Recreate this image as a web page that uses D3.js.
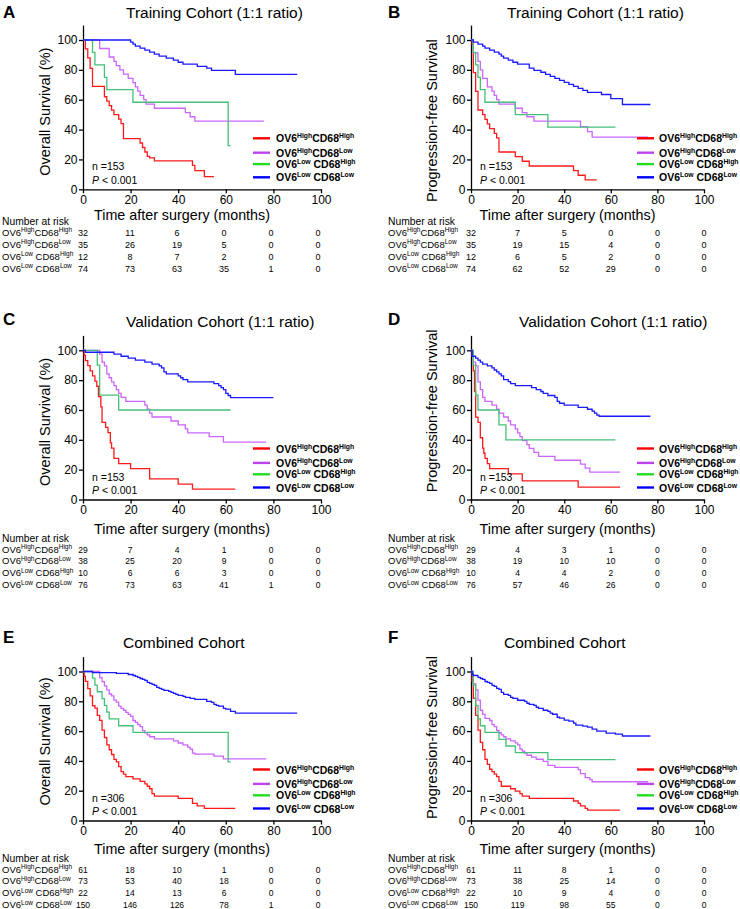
<!DOCTYPE html>
<html lang="en">
<head>
<meta charset="UTF-8">
<title>Kaplan-Meier curves</title>
<script src="https://cdnjs.cloudflare.com/ajax/libs/d3/7.8.5/d3.min.js"></script>
<style>
  body { margin: 0; background: #fff; }
  svg { display: block; font-family: "Liberation Sans", Arial, sans-serif; }
  .axis path, .axis line { stroke: #000; stroke-width: 1.3px; }
</style>
</head>
<body>
<div id="chart"></div>
<script>
// ---- data ----
const monthTicks = [0, 20, 40, 60, 80, 100];
const survTicks = [0, 20, 40, 60, 80, 100];
const panelLetters = ["A", "B", "C", "D", "E", "F"];
const panelTitles = ["Training Cohort (1:1 ratio)", "Training Cohort (1:1 ratio)",
  "Validation Cohort (1:1 ratio)", "Validation Cohort (1:1 ratio)",
  "Combined Cohort", "Combined Cohort"];
const yTitles = ["Overall Survival (%)", "Progression-free Survival",
  "Overall Survival (%)", "Progression-free Survival",
  "Overall Survival (%)", "Progression-free Survival"];
const nTotals = [153, 153, 153, 153, 306, 306];
const ov6Levels = ["High", "High", "Low", "Low"];
const cd68Levels = ["High", "Low", "High", "Low"];

// step points [month, survival %], last point = end of follow-up
const kmA = [
  [[0,100],[1,94],[2,88],[3,81],[4,69],[9,62],[10,59],[11,56],[12,53],[13,50],[15,47],[16,44],[17,34],[24,31],[25,28],[26,25],[27,22],[28,21],[30,19],[46,16],[47,12.5],[51,8.5],[55,8.5]],
  [[0,100],[7,94.3],[11,88.6],[13,85.7],[14,82.9],[15.5,80],[17,77.1],[19,74.3],[21,71.4],[22,68.6],[23,65.7],[24,62.9],[25.5,60],[26.5,57.1],[30,54.3],[43,51.4],[45,48.6],[47,45.7],[76,45.7]],
  [[0,100],[4,91.7],[5,83.3],[9,75],[10,66.7],[21,58.3],[61,29.2],[62,29.2]],
  [[0,100],[20,98.6],[21,97.3],[22,95.9],[24,94.6],[26,93.2],[28,91.9],[30,90.5],[32,89.2],[35,87.8],[38,86.5],[40,85.1],[42,83.8],[48,82.4],[52,81.1],[54,79.7],[64,77],[90,77]]
];
const kmB = [
  [[0,100],[0.5,96.9],[1,78.1],[2,65.6],[3,53.1],[5,50],[6,46.9],[7,43.8],[8,40.6],[10,37.5],[11,34.4],[12,25],[19,21.9],[22,18.8],[25,15.6],[44,12.5],[46,9.4],[49,6.3],[54,6.3]],
  [[0,100],[1,91.4],[3,85.7],[4,80],[5,74.3],[7,68.6],[9,65.7],[10,62.9],[11,60],[12,57.1],[19,54.3],[22,51.4],[24,48.6],[27,45.7],[47,42],[50,38.6],[52,35],[76,35]],
  [[0,100],[1,91.7],[2,83.3],[3,75],[4,66.7],[6,58.3],[19,50],[33,41.7],[62,41.7]],
  [[0,100],[1,98.6],[3,97.3],[5,95.9],[6,94.6],[8,93.2],[10,91.9],[12,90.5],[13,89.2],[14,87.8],[16,86.5],[18,85.1],[20,83.8],[25,81.1],[27,79.7],[30,78.4],[32,77],[34,75.7],[36,74.3],[38,73],[40,71.6],[42,70.3],[44,68.9],[46,67.6],[48,66.2],[50,64.9],[56,63.5],[60,60.8],[65,56.8],[77,56.8]]
];
const kmC = [
  [[0,100],[0.5,96.6],[1,93.1],[2,89.7],[3,86.2],[4,82.8],[5,79.3],[5.8,75.9],[6.5,69],[7.5,62.1],[8,51.7],[9.5,48.3],[10.5,44.8],[11.5,37.9],[12,34.5],[13,27.6],[15,24.1],[20,20.7],[28,13.8],[40,10.3],[46,6.9],[64,6.9]],
  [[0,100],[7,97.4],[8,92.1],[9,89.5],[10,84.2],[11,81.6],[12,78.9],[13,76.3],[14,73.7],[15,71.1],[16,68.4],[18,65.8],[26,63.2],[27,60.5],[28,57.9],[29,55.3],[37,52.6],[40,50],[43,47.4],[44,44.7],[53,42.1],[59,38.4],[77,38.4]],
  [[0,100],[6,90],[7,70],[15,60],[62,60]],
  [[0,100],[1,98.7],[13,97.4],[16,96],[19,94.7],[22,93.4],[26,92.1],[29,90.8],[32,89.5],[33,88.2],[34,85.5],[35,84.2],[40,82.9],[41,81.6],[42,80.3],[44,78.9],[55,77.6],[57,76.3],[58,75],[59,73.7],[60,71.1],[61,69.7],[62,68.3],[80,68.3]]
];
const kmD = [
  [[0,100],[0.5,96.6],[1,86.2],[1.5,72.4],[2,55.2],[3,51.7],[4,41.4],[5,34.5],[5.5,31],[6,27.6],[7,24.1],[8,20.7],[16,17.2],[22,12.5],[46,8.3],[64,8.3]],
  [[0,100],[1,92.1],[2,89.5],[3,78.9],[4,73.7],[5,68.4],[6,65.8],[9,63.2],[11,60.5],[12,57.9],[14,55.3],[16,52.6],[17,50],[19,47.4],[20,44.7],[21,42.1],[22,39.5],[24,36.8],[25,34.2],[27,31.6],[29,28.9],[36,26.3],[47,23.7],[49,21],[51,18.4],[64,18.4]],
  [[0,100],[1,90],[2,70],[3,60],[12,50],[15,40],[62,40]],
  [[0,100],[0.5,96],[2,94.7],[3,93.4],[4,92.1],[5,90.8],[7,89.5],[9,88.2],[10,86.8],[11,85.5],[12,84.2],[13,82.9],[14,80.3],[16,79],[17,77.6],[19,76.3],[26,75],[28,73.7],[30,72.4],[31,71.1],[33,69.7],[36,68.4],[37,65.8],[38,64.5],[40,63.2],[46,61.8],[50,60.5],[52,59.2],[53,57.9],[54,56.6],[55,55.8],[77,55.8]]
];
const kmE = [
  [[0,100],[0.5,96.7],[1,93.4],[2,88.5],[3,83.6],[4,77],[5,75.4],[6,70.5],[7,67.2],[8,60.7],[9,55.7],[10,50.8],[11,47.5],[12,44.3],[13,41],[14,39.3],[15,36.1],[16,32.8],[17,31.1],[18,29.5],[21,27.9],[24,26.2],[26,24.6],[27,23],[28,21.3],[29,18],[30,16.4],[40,14.8],[46,11.5],[48,9.8],[51,8.2],[64,8.2]],
  [[0,100],[7,95.9],[8,93.2],[9,90.4],[10,87.7],[11,84.9],[12,83.6],[13,80.8],[14,79.5],[15,76.7],[16,75.3],[17,74],[18,72.6],[19,71.2],[20,69.9],[21,67.1],[22,65.8],[23,64.4],[24,63],[25,60.3],[26,58.9],[27,57.5],[28,56.2],[30,54.8],[38,53.4],[40,52],[42,50.7],[44,49.3],[45,47.9],[46,45.2],[47,44.5],[55,43.2],[59,41.4],[77,41.4]],
  [[0,100],[4,95.5],[5,90.9],[6,86.4],[8,81.8],[9,77.3],[10,72.7],[11,68.2],[15,63.6],[21,59.1],[61,39.4],[62,39.4]],
  [[0,100],[4,99.3],[14,98.7],[19,98],[21,97.3],[22,96.7],[23,96],[24,95.3],[25,94.7],[26,94],[27,92.7],[28,92],[29,91.3],[30,90.7],[31,89.3],[32,88.7],[33,88],[34,87.3],[36,86.7],[37,86],[38,85.3],[39,84.7],[40,84],[42,83.3],[43,82.7],[45,82],[47,81.3],[52,80],[54,79.3],[55,78],[56,77.3],[57,76.7],[59,75.3],[60,74.7],[62,73.3],[64,72],[90,72]]
];
const kmF = [
  [[0,100],[0.5,93.4],[1,82],[2,70.5],[3,60.7],[4,52.5],[5,47.5],[6,41],[7,37.7],[8,34.4],[9,32.8],[10,31.1],[11,29.5],[12,26.2],[13,23],[17,21.3],[19,19.7],[21,18],[22,16.4],[25,14.8],[44,13.1],[46,11.5],[47,9.8],[49,8.2],[50,7],[64,7]],
  [[0,100],[1,91.8],[2,87.7],[3,80.8],[4,74],[5,71.2],[6,68.5],[8,67.1],[9,64.4],[10,63],[11,60.3],[12,58.9],[13,57.5],[14,56.2],[15,54.8],[17,53.4],[19,52.1],[20,50.7],[21,47.9],[22,46.6],[23,45.2],[24,43.8],[26,42.5],[28,41.1],[31,39.7],[33,37],[36,35.6],[46,34.2],[47,31.5],[49,28.8],[51,27.4],[52,26],[76,26]],
  [[0,100],[1,90.9],[2,77.3],[3,68.2],[4,63.6],[6,59.1],[12,54.5],[15,50],[19,45.5],[33,40.9],[62,40.9]],
  [[0,100],[0.5,98],[1,97.3],[3,96],[4,95.3],[5,94.7],[6,93.3],[7,92.7],[8,92],[9,90.7],[10,90],[11,88.7],[12,88],[13,86],[14,84.7],[16,84],[17,82.7],[18,82],[20,80.7],[23,80],[24,78.7],[25,78],[27,77.3],[28,76],[29,75.3],[31,74],[33,73.3],[34,72],[35,71.3],[37,69.3],[38,68.7],[40,67.3],[42,66.7],[44,65.3],[45,64],[48,63.3],[50,62.7],[52,61.3],[54,60],[58,58.7],[62,58],[65,56.7],[77,56.7]]
];

// number at risk at 0,20,40,60,80,100 months
const riskA = [[32,11,6,0,0,0],[35,26,19,5,0,0],[12,8,7,2,0,0],[74,73,63,35,1,0]];
const riskB = [[32,7,5,0,0,0],[35,19,15,4,0,0],[12,6,5,2,0,0],[74,62,52,29,0,0]];
const riskC = [[29,7,4,1,0,0],[38,25,20,9,0,0],[10,6,6,3,0,0],[76,73,63,41,1,0]];
const riskD = [[29,4,3,1,0,0],[38,19,10,10,0,0],[10,4,4,2,0,0],[76,57,46,26,0,0]];
const riskE = [[61,18,10,1,0,0],[73,53,40,18,0,0],[22,14,13,6,0,0],[150,146,126,78,1,0]];
const riskF = [[61,11,8,1,0,0],[73,38,25,14,0,0],[22,10,9,4,0,0],[150,119,98,55,0,0]];

const kmAll = [kmA, kmB, kmC, kmD, kmE, kmF];
const riskAll = [riskA, riskB, riskC, riskD, riskE, riskF];

// ---- styles / layout ----
const curveColors = ["#ff1a1a", "#cc66ff", "#44c07a", "#1a1aff"];
const legendColors = ["#ff0000", "#bb44ee", "#22dd22", "#0000ff"];

const cols = [
  { x0: 83, x1: 321, letterX: 3, riskX: 2, legLine: 170, legText: 193, ylabX: 45 },
  { x0: 471, x1: 704, letterX: 388, riskX: 388, legLine: 166, legText: 188, ylabX: 432 }
];
const rows = [
  { y100: 40, y0: 189.3, title: 18, letter: 17.5, xlab: 31, risk: 36, riskSize: 9 },
  { y100: 350.3, y0: 499.5, title: 326.5, letter: 325, xlab: 34, risk: 42.5, riskSize: 8.5 },
  { y100: 671.5, y0: 820.5, title: 648, letter: 643, xlab: 33, risk: 41.5, riskSize: 8.5 }
];
const titleX = [126, 507, 126, 519, 123, 504];
const ylabShift = [-3, 6, -3, -14, -4.5, -8.5];
const legendRowDy = [0, 14.4, 25.8, 39];

const svg = d3.select("#chart").append("svg")
  .attr("width", 740).attr("height", 909);

// OV6^x CD68^y label with superscripts
function groupLabel(g, i, x, y, size, supSize, weight) {
  const t = g.append("text")
    .attr("x", x).attr("y", y)
    .attr("font-size", size).attr("font-weight", weight).attr("fill", "#000");
  const up = size * 0.38;
  t.append("tspan").text("OV6");
  t.append("tspan").attr("dy", -up).attr("font-size", supSize).text(ov6Levels[i]);
  t.append("tspan").attr("dy", up).attr("font-size", size)
    .text((ov6Levels[i] === "Low" ? " " : "") + "CD68");
  t.append("tspan").attr("dy", -up).attr("font-size", supSize).text(cd68Levels[i]);
  return t;
}

function drawPanel(p) {
  const c = cols[p % 2], r = rows[Math.floor(p / 2)];
  const g = svg.append("g");

  const x = d3.scaleLinear().domain([0, 100]).range([c.x0, c.x1]);
  const y110 = r.y0 - (r.y0 - r.y100) * 1.1;
  const y = d3.scaleLinear().domain([0, 110]).range([r.y0, y110]);

  // letter + title
  g.append("text").attr("x", c.letterX).attr("y", r.letter)
    .attr("font-size", 17).attr("font-weight", "bold").text(panelLetters[p]);
  g.append("text").attr("x", titleX[p]).attr("y", r.title)
    .attr("font-size", 15.5).text(panelTitles[p]);

  // axes
  const xAxis = g.append("g").attr("class", "axis")
    .attr("transform", `translate(0,${r.y0})`)
    .call(d3.axisBottom(x).tickValues(monthTicks).tickSize(4).tickSizeOuter(0).tickPadding(2));
  xAxis.selectAll("text").attr("font-size", 12).attr("font-family", null).attr("fill", "#000");

  const yAxis = g.append("g").attr("class", "axis")
    .attr("transform", `translate(${c.x0},0)`)
    .call(d3.axisLeft(y).tickValues(survTicks).tickSize(4).tickSizeOuter(0).tickPadding(1.5));
  yAxis.selectAll("text").attr("font-size", 12).attr("font-family", null).attr("fill", "#000");
  xAxis.attr("font-family", null); yAxis.attr("font-family", null);

  // axis titles
  g.append("text")
    .attr("x", (c.x0 + c.x1) / 2 - 20).attr("y", r.y0 + r.xlab)
    .attr("text-anchor", "middle").attr("font-size", 14.3)
    .text("Time after surgery (months)");
  const yc = (r.y0 + r.y100) / 2 + ylabShift[p];
  g.append("text")
    .attr("transform", `translate(${c.ylabX},${yc}) rotate(-90)`)
    .attr("text-anchor", "middle").attr("dominant-baseline", "central")
    .attr("font-size", 14.5).text(yTitles[p]);

  // curves
  const line = d3.line()
    .x(d => x(d[0])).y(d => y(d[1]))
    .curve(d3.curveStepAfter);
  g.append("g").selectAll("path")
    .data(kmAll[p])
    .join("path")
    .attr("d", line)
    .attr("fill", "none")
    .attr("stroke", (d, i) => curveColors[i])
    .attr("stroke-width", 1.3);

  // legend
  const ly0 = r.y0 - 51;
  legendRowDy.forEach((dy, i) => {
    const ly = ly0 + dy;
    g.append("line")
      .attr("x1", c.x0 + c.legLine).attr("x2", c.x0 + c.legLine + 17)
      .attr("y1", ly).attr("y2", ly)
      .attr("stroke", legendColors[i]).attr("stroke-width", 2.4);
    groupLabel(g, i, c.x0 + c.legText, ly + 4, 10.5, 6.8, "bold");
  });

  // n and P
  g.append("text").attr("x", c.x0 + 9).attr("y", r.y0 - 19)
    .attr("font-size", 10.5).text("n =" + nTotals[p]);
  const pt = g.append("text").attr("x", c.x0 + 9).attr("y", r.y0 - 5.5)
    .attr("font-size", 10.5);
  pt.append("tspan").attr("font-style", "italic").text("P");
  pt.append("tspan").text(" < 0.001");

  // number at risk table
  const ny = r.y0 + r.risk;
  g.append("text").attr("x", c.riskX).attr("y", ny)
    .attr("font-size", 10.3).text("Number at risk");
  riskAll[p].forEach((vals, i) => {
    const ry = ny + 10.5 + i * 11.9;
    groupLabel(g, i, c.riskX, ry, 9.5, 6.5, "normal");
    g.append("g").selectAll("text")
      .data(vals)
      .join("text")
      .attr("x", (d, j) => x(monthTicks[j]) - (p % 2 === 0 ? j * 0.6 : 0))
      .attr("y", ry)
      .attr("text-anchor", "middle")
      .attr("font-size", r.riskSize)
      .text(d => d);
  });
}

d3.range(6).forEach(drawPanel);
</script>
</body>
</html>
